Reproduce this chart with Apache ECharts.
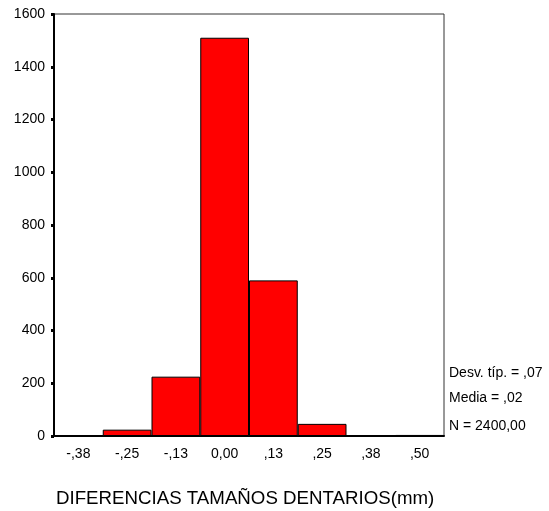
<!DOCTYPE html>
<html><head><meta charset="utf-8">
<script src="https://cdn.jsdelivr.net/npm/echarts@6/dist/echarts.min.js"></script>
<style>html,body{margin:0;padding:0;background:#fff}#c{width:549px;height:511px}</style>
</head><body><div id="c"></div>
<script>
const categories = ['-,38', '-,25', '-,13', '0,00', ',13', ',25', ',38', ',50'];
const counts = [1, 24, 225, 1510, 590, 46, 1, 4];
const yTicks = [0, 200, 400, 600, 800, 1000, 1200, 1400, 1600];
const statsLines = ['Desv. típ. = ,07', 'Media = ,02', 'N = 2400,00'];
const xTitle = 'DIFERENCIAS TAMAÑOS DENTARIOS(mm)';

const font = '"Liberation Sans", Arial, sans-serif';
const chart = echarts.init(document.getElementById('c'), null, {renderer: 'canvas'});
chart.setOption({
  animation: false,
  backgroundColor: '#fff',
  grid: {left: 54, top: 14, right: 105, bottom: 75, show: true, borderColor: '#333', borderWidth: 1},
  xAxis: {
    type: 'category', data: categories,
    axisLine: {lineStyle: {color: '#000', width: 2}},
    axisTick: {alignWithLabel: true, length: 5, lineStyle: {color: '#000', width: 3}},
    axisLabel: {color: '#000', fontFamily: font, fontSize: 14, margin: 11}
  },
  yAxis: {
    type: 'value', min: yTicks[0], max: yTicks[yTicks.length - 1], interval: 200,
    splitLine: {show: false},
    axisLine: {show: true, lineStyle: {color: '#000', width: 2}},
    axisTick: {show: true, length: 3, lineStyle: {color: '#000', width: 3}},
    axisLabel: {color: '#000', fontFamily: font, fontSize: 14, margin: 9, formatter: v => String(v)}
  },
  series: [{
    type: 'bar', data: counts, barCategoryGap: '0%',
    itemStyle: {color: '#ff0000', borderColor: '#000', borderWidth: 1}
  }],
  graphic: [
    ...statsLines.map((t, i) => ({
      type: 'text', left: 449, top: [366, 391, 419][i],
      style: {text: t, fill: '#000', font: '14px ' + font}
    })),
    {type: 'text', left: 56, top: 489, style: {text: xTitle, fill: '#000', font: '18.7px ' + font}}
  ]
});
</script></body></html>
